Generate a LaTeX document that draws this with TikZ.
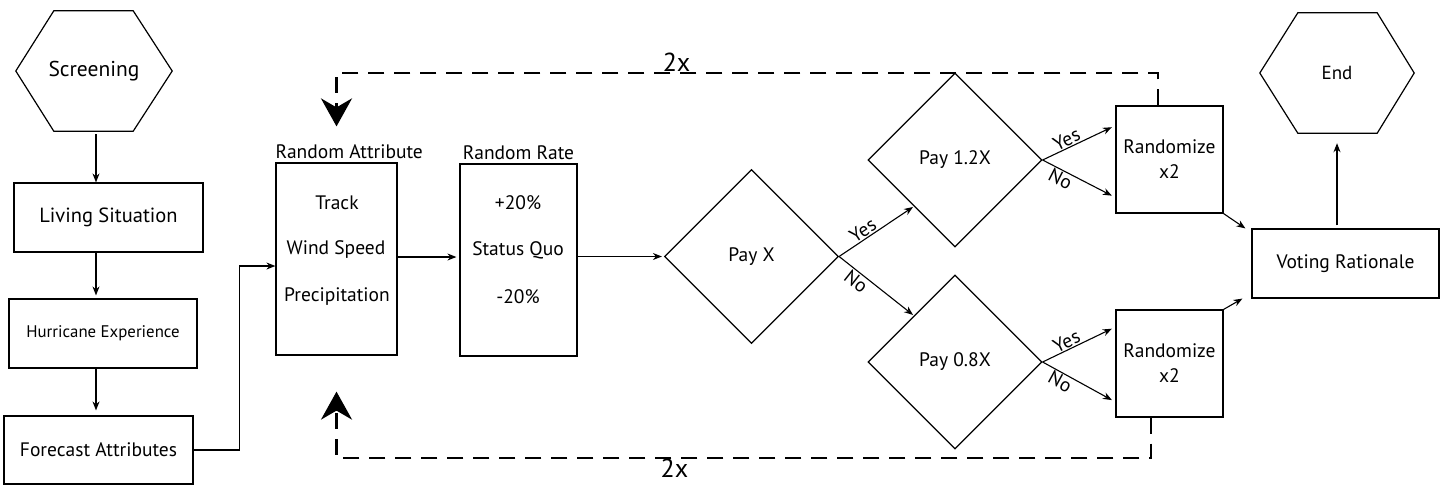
\documentclass[tikz,border=0pt]{standalone}
\usepackage{fontspec}
\setmainfont{PT Sans}
\usetikzlibrary{shapes.geometric,arrows.meta,calc}
\begin{document}
\begin{tikzpicture}[x=1pt,y=-1pt,
  box/.style={draw, line width=1.2pt, inner sep=0pt, align=center},
  dia/.style={diamond, draw, line width=1.2pt, minimum width=174pt, minimum height=174pt, inner sep=0pt},
  arr/.style={-{Stealth[length=9pt,width=7pt]}, line width=1.1pt},
  loopline/.style={line width=2.6pt, dash pattern=on 16pt off 10pt},
  bighead/.style={-{Stealth[length=28pt,width=31pt,inset=9pt]}},
  lbl/.style={font=\fontsize{19.5}{25}\selectfont},
  yn/.style={font=\fontsize{19.5}{20}\selectfont, sloped, inner sep=1pt},
  hexline/.style={line width=1.2pt}]
\path[use as bounding box] (0,0) rectangle (1443,491);

% left column
\node[font=\fontsize{21.5}{24}\selectfont, minimum width=156pt, minimum height=120pt, inner sep=0pt] (scr) at (94,71) {Screening};
\draw[hexline] (scr.west) -- ($(scr.north west)+(38,0)$) -- ($(scr.north east)+(-39,0)$) -- (scr.east)
  -- ($(scr.south east)+(-39,0)$) -- ($(scr.south west)+(38,0)$) -- cycle;
\node[box, font=\fontsize{20.5}{24}\selectfont, minimum width=189pt, minimum height=69pt] (liv) at (108.5,217.5) {Living Situation};
\node[box, font=\fontsize{16.8}{20}\selectfont, minimum width=188pt, minimum height=69pt] (hur) at (103,333.5) {Hurricane Experience};
\node[box, lbl, minimum width=189pt, minimum height=68pt] (fc) at (98.5,450) {Forecast Attributes};
\coordinate (cx) at (96,0);
\draw[arr, shorten <=3pt] (cx |- scr.south) -- (cx |- liv.north);
\draw[arr, shorten >=3pt] (cx |- liv.south) -- (cx |- hur.north);
\draw[arr, shorten >=5pt] (cx |- hur.south) -- (cx |- fc.north);

% random attribute / rate
\node[box, minimum width=121pt, minimum height=192pt] (ra) at (336.5,259) {};
\node[lbl, anchor=south west, inner sep=0pt, yshift=3pt] (ral) at (ra.north west) {Random Attribute};
\node[lbl] (ra1) at (337,203) {Track};
\node[lbl] (ra2) at (336,250) {Wind Speed};
\node[lbl] (ra3) at (337,297) {Precipitation};
\node[box, minimum width=117pt, minimum height=192pt] (rr) at (518.5,260) {};
\node[lbl, anchor=south, inner sep=0pt, yshift=3pt] (rrl) at (rr.north) {Random Rate};
\node[lbl] (rr1) at (518,203) {+20\%};
\node[lbl] (rr2) at (518,250) {Status Quo};
\node[lbl] (rr3) at (518,297) {-20\%};

% diamonds
\node[dia, lbl] (px) at (751.5,256.5) {Pay X};
\node[dia, lbl] (p12) at (955,160) {Pay 1.2X};
\node[dia, lbl] (p08) at (955,362) {Pay 0.8X};

\draw[arr] (fc.east) -- ++(46,0) |- ([yshift=-7pt]ra.west);
\draw[arr, shorten >=3pt] ([yshift=2pt]ra.east) -- ([yshift=2pt]ra.east -| rr.west);
\draw[arr, shorten >=2pt] (px.west -| rr.east) -- (px.west);

\draw[arr, shorten >=1pt] (px.east) -- ($(p12.west)!0.53!(p12.south)$) node[yn, above, pos=0.38] {Yes};
\draw[arr, shorten >=1pt] (px.east) -- ($(p08.west)!0.53!(p08.north)$) node[yn, below, pos=0.3] {No};

% randomize boxes
\node[box, lbl, minimum width=107pt, minimum height=107pt] (r1) at (1169.5,159.5) {Randomize\\x2};
\node[box, lbl, minimum width=107pt, minimum height=107pt] (r2) at (1169.5,363.5) {Randomize\\x2};
\draw[arr, shorten >=4pt] (p12.east) -- ([yshift=34pt]r1.west) node[yn, above, pos=0.38] {Yes};
\draw[arr, shorten >=4pt] (p12.east) -- ([yshift=-38pt]r1.west) node[yn, below, pos=0.3] {No};
\draw[arr, shorten >=4pt] (p08.east) -- ([yshift=36.5pt]r2.west) node[yn, above, pos=0.38] {Yes};
\draw[arr, shorten >=4pt] (p08.east) -- ([yshift=-38.5pt]r2.west) node[yn, below, pos=0.3] {No};

% voting and end
\node[box, lbl, minimum width=187pt, minimum height=69pt] (vr) at (1345.5,263.5) {Voting Rationale};
\node[font=\fontsize{19}{20}\selectfont, minimum width=154pt, minimum height=120pt, inner sep=0pt] (endh) at (1337,73) {End};
\draw[hexline] (endh.west) -- ($(endh.north west)+(38,0)$) -- ($(endh.north east)+(-37,0)$) -- (endh.east)
  -- ($(endh.south east)+(-37,0)$) -- ($(endh.south west)+(38,0)$) -- cycle;
\draw[arr] (r1.south east) -- ([xshift=-6pt]vr.north west);
\draw[arr] (r2.north east) -- ([xshift=-9pt]vr.south west);
\draw[arr, shorten <=3pt, shorten >=10pt] (endh.south |- vr.north) -- (endh.south);

% loops
\coordinate (topy) at (0,73);
\coordinate (boty) at (0,458);
\draw[loopline, bighead] ([xshift=-11.5pt]r1.north) -- ([xshift=-11.5pt]r1.north |- topy)
  -- (ra.north |- topy) node[pos=0.586, above, font=\fontsize{26}{28}\selectfont, inner sep=0pt] (tx1) {2x}
  -- ([yshift=36pt]ra.north);
\draw[loopline, bighead] ([xshift=-18.5pt]r2.south) -- ([xshift=-18.5pt]r2.south |- boty)
  -- (ra.south |- boty) node[pos=0.585, below, font=\fontsize{26}{28}\selectfont, inner sep=0pt] (tx2) {2x}
  -- ([yshift=-36pt]ra.south);
\end{tikzpicture}
\end{document}
